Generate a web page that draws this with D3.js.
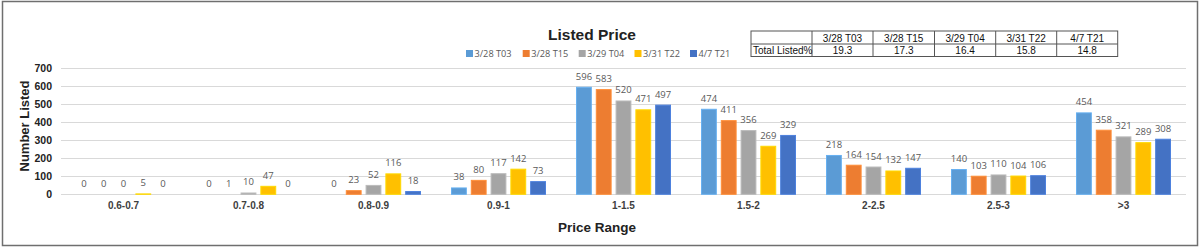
<!DOCTYPE html>
<html><head><meta charset="utf-8">
<script src="https://cdn.jsdelivr.net/npm/d3@7"></script>
<style>body{margin:0;background:#fff}svg{display:block}</style>
</head><body>
<svg id="c" width="1200" height="248"></svg>
<script>
const categories = ["0.6-0.7","0.7-0.8","0.8-0.9","0.9-1","1-1.5","1.5-2","2-2.5","2.5-3",">3"];
const seriesNames = ["3/28 T03","3/28 T15","3/29 T04","3/31 T22","4/7 T21"];
const s1 = [0,0,0,38,596,474,218,140,454];
const s2 = [0,1,23,80,583,411,164,103,358];
const s3 = [0,10,52,117,520,356,154,110,321];
const s4 = [5,47,116,142,471,269,132,104,289];
const s5 = [0,0,18,73,497,329,147,106,308];
const seriesValues = [s1,s2,s3,s4,s5];
const totalListedPct = ["19.3","17.3","16.4","15.8","14.8"];
const yTicks = [0,100,200,300,400,500,600,700];
const colors = ["#5B9BD5","#ED7D31","#A5A5A5","#FFC000","#4472C4"];

const svg = d3.select("#c");
svg.append("rect").attr("x",2.5).attr("y",1.5).attr("width",1195).attr("height",244)
  .attr("fill","#fff").attr("stroke","#6f6f6f").attr("stroke-width",1.5);

const y = d3.scaleLinear().domain([0,700]).range([194.3,68]);
const x0 = d3.scaleBand().domain(categories).range([61,1186]).paddingInner(0.24).paddingOuter(0.12);
const x1 = d3.scaleBand().domain(seriesNames).range([0,x0.bandwidth()]).paddingInner(0.2);

// gridlines
svg.append("g").selectAll("line").data(yTicks).join("line")
  .attr("x1",61).attr("x2",1186).attr("y1",d=>Math.round(y(d))+0.5).attr("y2",d=>Math.round(y(d))+0.5)
  .attr("stroke","#d9d9d9").attr("stroke-width",1);

// y axis labels
const yAxis = d3.axisLeft(y).tickValues(yTicks).tickSize(0).tickPadding(0);
const ya = svg.append("g").attr("transform","translate(52,0)").call(yAxis);
ya.select(".domain").remove();
ya.selectAll("text").attr("font-family","Liberation Sans, Arial, sans-serif").attr("font-size",10.5)
  .attr("font-weight","bold").attr("fill","#222");

// x axis labels
const xAxis = d3.axisBottom(x0).tickSize(0).tickPadding(0);
const xa = svg.append("g").attr("transform","translate(0,202)").call(xAxis);
xa.select(".domain").remove();
xa.selectAll("text").attr("font-family","Liberation Sans, Arial, sans-serif").attr("font-size",10)
  .attr("font-weight","bold").attr("fill","#404040");

// bars
const groups = svg.append("g").selectAll("g").data(categories).join("g")
  .attr("transform",d=>`translate(${x0(d)},0)`);
groups.selectAll("rect").data((c,i)=>seriesNames.map((s,j)=>({s,j,v:seriesValues[j][i]}))).join("rect")
  .attr("x",d=>x1(d.s)+0.5).attr("width",x1.bandwidth()-1)
  .attr("y",d=>y(d.v)+0.5).attr("height",d=>Math.max(0,y(0)-y(d.v)-0.5))
  .attr("fill",d=>colors[d.j])
  .attr("stroke",d=>d3.color(colors[d.j]).brighter(0.35)).attr("stroke-width",1);
groups.selectAll("text").data((c,i)=>seriesNames.map((s,j)=>({s,j,v:seriesValues[j][i]}))).join("text")
  .attr("x",d=>x1(d.s)+x1.bandwidth()/2).attr("y",d=>y(d.v)-7)
  .attr("text-anchor","middle").attr("font-family","Open Sans, sans-serif").attr("font-size",9.5)
  .attr("fill","#595959").text(d=>d.v);

// title
svg.append("text").attr("x",592).attr("y",39.5).attr("text-anchor","middle")
  .attr("font-family","Liberation Sans, Arial, sans-serif").attr("font-weight","bold").attr("font-size",15.5)
  .attr("fill","#222").text("Listed Price");

// legend
const legX = [466,522.7,578.7,634.5,690];
const leg = svg.append("g").selectAll("g").data(seriesNames).join("g")
  .attr("transform",(d,i)=>`translate(${legX[i]},53.5)`);
leg.append("rect").attr("x",0).attr("y",-3.5).attr("width",7).attr("height",7).attr("fill",(d,i)=>colors[i]);
leg.append("text").attr("x",8.5).attr("y",3.5).attr("font-family","Open Sans, sans-serif").attr("font-size",9.2)
  .attr("fill","#595959").text(d=>d);

// axis titles
svg.append("text").attr("transform","translate(29,126) rotate(-90)").attr("text-anchor","middle")
  .attr("font-family","Liberation Sans, Arial, sans-serif").attr("font-weight","bold").attr("font-size",13)
  .attr("fill","#222").text("Number Listed");
svg.append("text").attr("x",597).attr("y",232).attr("text-anchor","middle")
  .attr("font-family","Liberation Sans, Arial, sans-serif").attr("font-weight","bold").attr("font-size",13.5)
  .attr("fill","#222").text("Price Range");

// table
const tbl = svg.append("g");
const tx = [751,812,873,934.5,995.7,1056.7,1117.7];
const ty = [31,44,56.5];
tbl.append("rect").attr("x",tx[0]).attr("y",ty[0]).attr("width",tx[6]-tx[0]).attr("height",ty[2]-ty[0])
  .attr("fill","#fff").attr("stroke","#555").attr("stroke-width",1);
tbl.append("line").attr("x1",tx[0]).attr("x2",tx[6]).attr("y1",ty[1]).attr("y2",ty[1]).attr("stroke","#555");
tbl.selectAll("line.v").data(tx.slice(1,6)).join("line").attr("class","v")
  .attr("x1",d=>d).attr("x2",d=>d).attr("y1",ty[0]).attr("y2",ty[2]).attr("stroke","#555");
tbl.selectAll("text.h").data(seriesNames).join("text").attr("class","h")
  .attr("x",(d,i)=>(tx[i+1]+tx[i+2])/2).attr("y",41.5).attr("text-anchor","middle")
  .attr("font-family","Liberation Sans, Arial, sans-serif").attr("font-size",10).attr("fill","#111").text(d=>d);
tbl.selectAll("text.v").data(totalListedPct).join("text").attr("class","v")
  .attr("x",(d,i)=>(tx[i+1]+tx[i+2])/2).attr("y",54).attr("text-anchor","middle")
  .attr("font-family","Liberation Sans, Arial, sans-serif").attr("font-size",10).attr("fill","#111").text(d=>d);
tbl.append("text").attr("x",tx[0]+2).attr("y",54)
  .attr("font-family","Liberation Sans, Arial, sans-serif").attr("font-size",10).attr("fill","#111").text("Total Listed%");
</script>
</body></html>
